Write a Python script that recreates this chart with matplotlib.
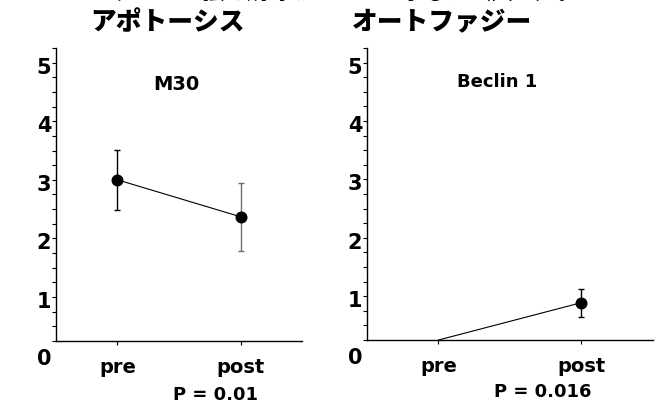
import matplotlib
matplotlib.use("Agg")
import matplotlib.pyplot as plt
import matplotlib.transforms as mtransforms
from matplotlib.ticker import MultipleLocator

plt.rcParams['font.family'] = ['DejaVu Sans']

# --- data ---
groups = ["pre", "post"]
m30_mean = [3.0, 2.37]
m30_err = [0.51, 0.58]
beclin_mean = [0.25, 0.89]
beclin_err = [0.0, 0.24]
p_values = ["P = 0.01", "P = 0.016"]
markers_right = [1]          # pre point of Beclin 1 sits on the axis, no marker
yticks = [1, 2, 3, 4, 5]

jp_font = ['Noto Sans CJK JP', 'DejaVu Sans']

fig = plt.figure(figsize=(6.61, 4.07), dpi=100)
ax1 = fig.add_axes([0.0847, 0.1622, 0.3722, 0.7199])
ax2 = fig.add_axes([0.5552, 0.1646, 0.4327, 0.7174])

x = [1, 2]


def style_axis(ax):
    ax.set_xlim(0.5, 2.5)
    ax.set_ylim(0.25, 5.25)
    for s in ["top", "right"]:
        ax.spines[s].set_visible(False)
    ax.spines["left"].set_linewidth(1.0)
    ax.spines["bottom"].set_linewidth(1.0)
    ax.set_yticks(yticks)
    ax.yaxis.set_minor_locator(MultipleLocator(0.25))
    ax.tick_params(axis="y", which="both", length=3, width=0.8, pad=0.5,
                   labelsize=15)
    ax.tick_params(axis="x", length=3, width=0.8, pad=9, labelsize=14)
    ax.set_xticks(x)
    ax.set_xticklabels(groups, fontweight="bold")
    for lab in ax.get_yticklabels():
        lab.set_fontweight("bold")
    off = mtransforms.ScaledTranslation(0, -3 / 100, fig.dpi_scale_trans)
    for lab in ax.get_yticklabels():
        lab.set_transform(lab.get_transform() + off)
    # the "0" sits below the axis start
    blend = mtransforms.blended_transform_factory(ax.transAxes, ax.transData)
    off0 = mtransforms.ScaledTranslation(-4 / 100, -3 / 100, fig.dpi_scale_trans)
    ax.text(0, 0, "0", transform=blend + off0, ha="right", va="center",
            fontsize=15, fontweight="bold", clip_on=False)


style_axis(ax1)
style_axis(ax2)

# left panel: M30
ax1.plot(x, m30_mean, color="black", lw=0.8, zorder=2)
err_colors = ["black", "#6e6e6e"]
for xi, m, e, c in zip(x, m30_mean, m30_err, err_colors):
    ax1.errorbar(xi, m, yerr=e, fmt="none", ecolor=c, elinewidth=1.0,
                 capsize=2.5, capthick=1.0, zorder=3)
ax1.plot(x, m30_mean, "o", color="black", markersize=7.6, zorder=4)

# right panel: Beclin 1
ax2.plot(x, beclin_mean, color="black", lw=0.8, zorder=2)
ax2.errorbar([x[i] for i in markers_right], [beclin_mean[i] for i in markers_right],
             yerr=[beclin_err[i] for i in markers_right], fmt="none",
             ecolor="black", elinewidth=1.0, capsize=2.5, capthick=1.0, zorder=3)
ax2.plot(x, beclin_mean, "o", color="black", markersize=7.6,
         markevery=markers_right, linestyle="none", zorder=4)

ax1.text(0.49, 0.877, "M30", transform=ax1.transAxes, ha="center", va="center",
         fontsize=14, fontweight="bold")
ax2.text(0.455, 0.884, "Beclin 1", transform=ax2.transAxes, ha="center",
         va="center", fontsize=13, fontweight="bold")

ax1.text(0.65, -0.184, p_values[0], transform=ax1.transAxes, ha="center",
         va="center", fontsize=13, fontweight="bold")
ax2.text(0.615, -0.178, p_values[1], transform=ax2.transAxes, ha="center",
         va="center", fontsize=13, fontweight="bold")

# headings and the cut-off line of body text above
fig.text(0.253, 0.945, "アポトーシス", ha="center", va="center", fontsize=18.5,
         fontweight="black", family=jp_font)
fig.text(0.669, 0.945, "オートファジー", ha="center", va="center", fontsize=18.5,
         fontweight="black", family=jp_font)
fig.text(0.071, 1.002, "ートファジーを強く誘導することを示した（図２）。", ha="left",
         va="baseline", fontsize=16, family=jp_font)

fig.savefig("out.png", dpi=100)
